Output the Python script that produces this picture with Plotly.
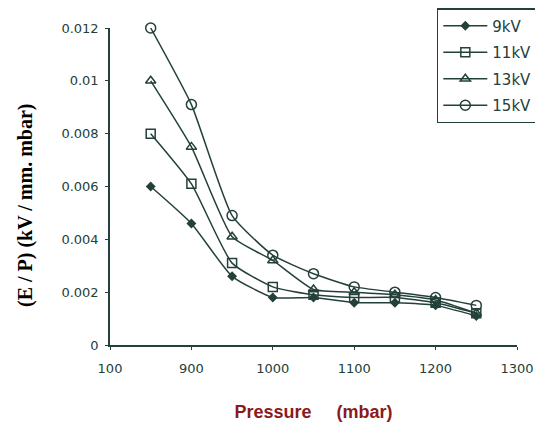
import plotly.graph_objects as go

pressure = [850, 900, 950, 1000, 1050, 1100, 1150, 1200, 1250]
ep_9kv = [0.0060, 0.0046, 0.0026, 0.0018, 0.0018, 0.0016, 0.0016, 0.0015, 0.0011]
ep_11kv = [0.0080, 0.0061, 0.0031, 0.0022, 0.0019, 0.0018, 0.0018, 0.0016, 0.0012]
ep_13kv = [0.0100, 0.0075, 0.0041, 0.0032, 0.0021, 0.0020, 0.0019, 0.0017, 0.0012]
ep_15kv = [0.0120, 0.0091, 0.0049, 0.0034, 0.0027, 0.0022, 0.0020, 0.0018, 0.0015]

x_tickvals = [800, 900, 1000, 1100, 1200, 1300]
x_ticktext = ["100", "900", "1000", "1100", "1200", "1300"]
y_tickvals = [0, 0.002, 0.004, 0.006, 0.008, 0.010, 0.012]
y_ticktext = ["0", "0.002", "0.004", "0.006", "0.008", "0.01", "0.012"]

ink = "#24403a"
series = [
    ("9kV", ep_9kv, "diamond", ink, 6),
    ("11kV", ep_11kv, "square-open", ink, 9),
    ("13kV", ep_13kv, "triangle-up-open", ink, 9),
    ("15kV", ep_15kv, "circle-open", ink, 10),
]

fig = go.Figure()
for name, ys, sym, col, sz in series:
    fig.add_trace(go.Scatter(
        x=pressure, y=ys, name=name, legendgroup=name,
        mode="lines+markers", cliponaxis=False,
        line=dict(color=ink, width=1.5, shape="spline", smoothing=0.5),
        marker=dict(symbol=sym, size=sz, color=col,
                    line=dict(color=ink, width=1.5)),
    ))

W, H = 543, 427
ml, mr, mt, mb = 102, 34, 20, 90
pw, ph = W - ml - mr, H - mt - mb

fig.update_layout(
    width=W, height=H,
    margin=dict(l=ml, r=mr, t=mt, b=mb, autoexpand=False),
    plot_bgcolor="white", paper_bgcolor="white",
    font=dict(family="DejaVu Sans", color=ink),
    legend=dict(x=0.803, y=1.063, xanchor="left", yanchor="top",
                bgcolor="white", bordercolor=ink, borderwidth=1.5,
                font=dict(size=15, color=ink), tracegroupgap=4,
                itemwidth=44),
    xaxis=dict(
        range=[800, 1300], tickvals=x_tickvals, ticktext=x_ticktext,
        showgrid=False, zeroline=False, showline=True, linecolor=ink,
        linewidth=1.5, ticks="outside", ticklen=3, tickcolor=ink,
        tickfont=dict(size=13, color=ink), ticklabelstandoff=8,
        title=dict(text="Pressure     (mbar)",
                   font=dict(family="Liberation Sans", size=18, color="#8b1a1a",
                             weight="bold"), standoff=30),
    ),
    yaxis=dict(
        range=[0, 0.012], tickvals=y_tickvals, ticktext=y_ticktext,
        showgrid=False, zeroline=False, showline=True, linecolor=ink,
        linewidth=1.5, ticks="outside", ticklen=3, tickcolor=ink,
        tickfont=dict(size=13, color=ink), ticklabelstandoff=4,
    ),
)

# y-axis title as annotation (positioned to match reference)
fig.add_annotation(
    text="(E / P) (kV / mm. mbar)", textangle=-90, showarrow=False,
    xref="paper", yref="paper",
    x=(17 - ml) / pw, y=1 - (197 - mt) / ph,
    xanchor="center", yanchor="middle",
    font=dict(family="Liberation Serif", size=20, color="black", weight="bold"),
)

fig.write_html("out.html")
